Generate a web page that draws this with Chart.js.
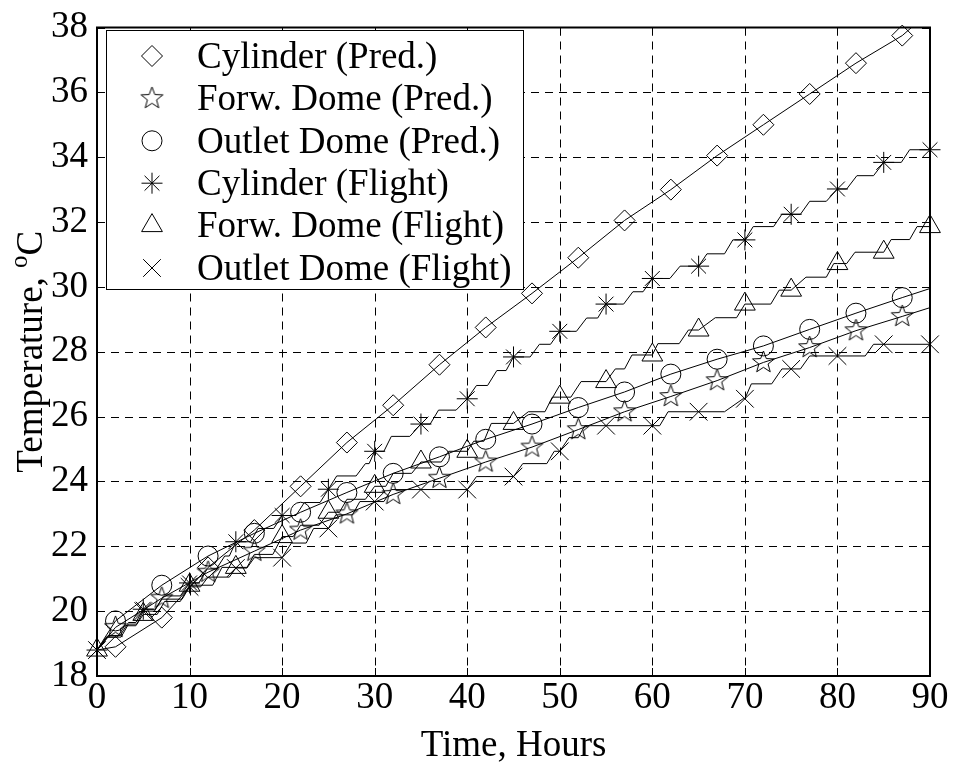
<!DOCTYPE html>
<html>
<head>
<meta charset="utf-8">
<title>Temperature vs Time</title>
<script src="https://cdn.jsdelivr.net/npm/chart.js@4.4.1/dist/chart.umd.min.js"></script>
<style>
  html, body { margin: 0; padding: 0; background: #fff; }
  #wrap { width: 953px; height: 766px; }
</style>
</head>
<body>
<div id="wrap"><canvas id="chart" width="953" height="766"></canvas></div>
<script>
/* ---------- data ---------- */

const xTicks = [0, 10, 20, 30, 40, 50, 60, 70, 80, 90];
const yTicks = [18, 20, 22, 24, 26, 28, 30, 32, 34, 36, 38];

const seriesNames = [
  "Cylinder (Pred.)",
  "Forw. Dome (Pred.)",
  "Outlet Dome (Pred.)",
  "Cylinder (Flight)",
  "Forw. Dome (Flight)",
  "Outlet Dome (Flight)"
];

// hours where a marker is drawn
const predMarkHours = [2, 7, 12, 17, 22, 27, 32, 37, 42, 47, 52, 57, 62, 67, 72, 77, 82, 87];
const flightMarkHours = [0, 5, 10, 15, 20, 25, 30, 35, 40, 45, 50, 55, 60, 65, 70, 75, 80, 85, 90];

// predicted curves
const cylPredHours = [0, 2, 7, 12, 17, 22, 27, 32, 37, 42, 47, 52, 57, 62, 67, 72, 77, 82, 87, 88];
const cylPredTemps = [18.8, 18.9, 19.8, 21.35, 22.5, 23.85, 25.2, 26.35, 27.6, 28.75, 29.8, 30.9, 32.05, 33.0, 34.05, 35.0, 35.95, 36.9, 37.75, 38.0];

const domePredHours = [0, 2, 7, 12, 17, 22, 27, 32, 37, 42, 47, 52, 57, 62, 67, 72, 77, 82, 87, 90];
const fwdPredTemps = [18.8, 19.5, 20.4, 21.2, 21.85, 22.5, 23.0, 23.6, 24.1, 24.6, 25.06, 25.6, 26.15, 26.62, 27.11, 27.67, 28.13, 28.65, 29.09, 29.36];
const outPredTemps = [18.8, 19.7, 20.8, 21.7, 22.4, 23.05, 23.66, 24.25, 24.76, 25.3, 25.77, 26.28, 26.76, 27.31, 27.77, 28.18, 28.69, 29.19, 29.67, 29.95];

// flight records (stair-like polylines)
const cylFlightHours = [0, 1.2, 2.5, 3.4, 4.2, 5, 6.3, 7.2, 9.0, 10, 11.0, 11.9, 12.9, 13.8, 14.3, 15, 16.6, 17.4, 19.1, 20,
  21.5, 22.4, 24.1, 25, 25.9, 28.0, 29.0, 29.4, 30, 31.0, 31.8, 33.8, 35, 36.0, 36.9, 38.8, 40, 41.0, 42.2, 43.2, 44.2, 45,
  46.8, 47.8, 49.0, 50, 51.8, 52.9, 54.1, 55, 56.9, 57.9, 59.0, 60, 61.9, 63.0, 65, 65.9, 67.8, 68.7, 70, 70.9, 73.1, 74.0, 75,
  76.0, 77.0, 78.8, 80, 81.0, 82.1, 83.9, 85, 86.9, 87.8, 90];
const cylFlightTemps = [18.8, 19.25, 19.25, 19.65, 19.65, 20.06, 20.06, 20.47, 20.47, 20.87, 20.87, 21.3, 21.3, 21.7, 21.7, 22.14, 22.14, 22.55, 22.55, 22.95,
  22.95, 23.35, 23.35, 23.76, 24.17, 24.17, 24.55, 24.55, 24.93, 24.93, 25.39, 25.39, 25.77, 25.77, 26.2, 26.2, 26.55, 26.96, 26.96, 27.42, 27.42, 27.84,
  27.84, 28.23, 28.23, 28.63, 28.63, 29.04, 29.04, 29.47, 29.47, 29.85, 29.85, 30.26, 30.26, 30.64, 30.64, 31.02, 31.02, 31.45, 31.45, 31.86, 31.86, 32.24, 32.24,
  32.24, 32.64, 32.64, 33.02, 33.02, 33.43, 33.43, 33.84, 33.84, 34.23, 34.23];

const fwdFlightHours = [0, 1.0, 2.2, 3.0, 4.2, 5, 6.5, 7.3, 9.0, 10, 12.5, 13.5, 15, 16.2, 17.0, 19.0, 20, 21.2, 22.0, 24.0, 25,
  26.2, 27.0, 29.0, 30, 31.2, 32.0, 34.0, 35, 37.2, 38.0, 40, 40.7, 41.8, 42.6, 45, 46.6, 48.4, 49.2, 50, 51.2, 52.3, 55,
  56.0, 57.0, 57.8, 60, 60.6, 62.9, 63.9, 65, 66.8, 69.1, 70, 72.8, 73.7, 75, 76.6, 78.8, 79.6, 80, 81.0, 81.9, 85,
  85.8, 87.8, 88.6, 90];
const fwdFlightTemps = [18.8, 19.2, 19.2, 19.55, 19.55, 19.9, 19.9, 20.3, 20.3, 20.8, 20.8, 21.35, 21.35, 21.35, 21.75, 21.75, 22.3, 22.3, 22.65, 22.65, 23.05,
  23.05, 23.45, 23.45, 23.85, 23.85, 24.25, 24.25, 24.6, 24.6, 24.93, 24.93, 25.24, 25.24, 25.79, 25.79, 26.15, 26.15, 26.6, 26.6, 26.6, 27.08, 27.08,
  27.47, 27.47, 27.9, 27.9, 28.25, 28.25, 28.67, 28.67, 29.05, 29.05, 29.47, 29.47, 29.9, 29.9, 30.3, 30.3, 30.72, 30.72, 30.72, 31.07, 31.07,
  31.46, 31.46, 31.86, 31.86];

const outFlightHours = [0, 1.2, 2.6, 3.4, 4.3, 5, 6.2, 7.0, 9.2, 10, 11.2, 12.0, 14.3, 15, 16.2, 17.0, 20, 21.0, 22.6, 23.4, 25,
  25.8, 27.6, 28.4, 30, 31.0, 31.8, 35, 40, 41.0, 45, 46.0, 48.6, 49.4, 50, 51.0, 52.0, 52.7, 55, 60, 60.8, 61.7, 65, 67.8,
  69.8, 70, 70.7, 72.9, 74.0, 75, 76.0, 77.0, 80, 83.0, 83.9, 85, 90];
const outFlightTemps = [18.8, 19.2, 19.2, 19.6, 19.6, 20.0, 20.0, 20.37, 20.37, 20.75, 20.75, 21.05, 21.05, 21.33, 21.33, 21.65, 21.65, 22.1, 22.1, 22.55, 22.55,
  22.97, 22.97, 23.38, 23.38, 23.38, 23.75, 23.75, 23.75, 24.15, 24.15, 24.55, 24.55, 24.93, 24.93, 25.35, 25.35, 25.72, 25.72, 25.72, 25.72, 26.15, 26.15, 26.15,
  26.55, 26.55, 27.01, 27.01, 27.47, 27.47, 27.47, 27.87, 27.87, 27.87, 28.23, 28.23, 28.23];

/* ---------- look ---------- */

const FONT = '"Liberation Serif", "Times New Roman", serif';
const FS = 37;

// five-pointed star marker (Chart.js has none)
function makePentagram(r) {
  const s = Math.ceil(r * 2 + 4);
  const c = document.createElement("canvas");
  c.width = s; c.height = s;
  const g = c.getContext("2d");
  g.translate(s / 2, s / 2);
  g.beginPath();
  for (let i = 0; i < 10; i++) {
    const rr = i % 2 === 0 ? r : r * 0.42;
    const a = -Math.PI / 2 + i * Math.PI / 5;
    g.lineTo(rr * Math.cos(a), rr * Math.sin(a));
  }
  g.closePath();
  g.lineWidth = 1;
  g.strokeStyle = "#000";
  g.stroke();
  return c;
}
const pentagram = makePentagram(11.5);

const series = [
  { hours: cylPredHours, temps: cylPredTemps, marks: predMarkHours, style: "rectRot", r: 10.5 },
  { hours: domePredHours, temps: fwdPredTemps, marks: predMarkHours, style: pentagram, r: 11.5 },
  { hours: domePredHours, temps: outPredTemps, marks: predMarkHours, style: "circle", r: 10 },
  { hours: cylFlightHours, temps: cylFlightTemps, marks: flightMarkHours, style: "star", r: 10.5 },
  { hours: fwdFlightHours, temps: fwdFlightTemps, marks: flightMarkHours, style: "triangle", r: 12 },
  { hours: outFlightHours, temps: outFlightTemps, marks: flightMarkHours, style: "crossRot", r: 12.5 }
];

const datasets = series.map((s, i) => ({
  label: seriesNames[i],
  data: s.hours.map((h, k) => ({ x: h, y: s.temps[k] })),
  borderColor: "#000",
  borderWidth: 1,
  tension: 0,
  fill: false,
  clip: false,
  pointStyle: s.style,
  pointRadius: ctx => (ctx.raw && s.marks.includes(ctx.raw.x)) ? s.r : 0,
  pointBorderColor: "#000",
  pointBorderWidth: 1,
  pointBackgroundColor: "rgba(0,0,0,0)"
}));

/* ---------- plugins: grid, frame, legend, titles ---------- */

const matlabAxes = {
  id: "matlabAxes",
  beforeDatasetsDraw(chart) {
    const { ctx, chartArea: a, scales: { x, y } } = chart;
    ctx.save();
    ctx.strokeStyle = "#000";
    ctx.lineWidth = 1;
    ctx.setLineDash([8, 6]);
    xTicks.slice(1, -1).forEach(v => {
      const px = Math.round(x.getPixelForValue(v)) + 0.5;
      ctx.beginPath(); ctx.moveTo(px, a.top); ctx.lineTo(px, a.bottom); ctx.stroke();
    });
    yTicks.slice(1, -1).forEach(v => {
      const py = Math.round(y.getPixelForValue(v)) + 0.5;
      ctx.beginPath(); ctx.moveTo(a.left, py); ctx.lineTo(a.right, py); ctx.stroke();
    });
    ctx.restore();
  },
  afterDatasetsDraw(chart) {
    const { ctx, chartArea: a, scales: { x, y } } = chart;
    ctx.save();
    ctx.strokeStyle = "#000";
    ctx.lineWidth = 2;
    ctx.setLineDash([]);
    ctx.strokeRect(a.left, a.top, a.right - a.left, a.bottom - a.top);
    ctx.lineWidth = 1;
    const tl = 8;
    xTicks.forEach(v => {
      const px = Math.round(x.getPixelForValue(v)) + 0.5;
      ctx.beginPath();
      ctx.moveTo(px, a.bottom); ctx.lineTo(px, a.bottom - tl);
      ctx.moveTo(px, a.top); ctx.lineTo(px, a.top + tl);
      ctx.stroke();
    });
    yTicks.forEach(v => {
      const py = Math.round(y.getPixelForValue(v)) + 0.5;
      ctx.beginPath();
      ctx.moveTo(a.left, py); ctx.lineTo(a.left + tl, py);
      ctx.moveTo(a.right, py); ctx.lineTo(a.right - tl, py);
      ctx.stroke();
    });

    // legend box
    const box = { l: 106, t: 30, r: 523, b: 289 };
    ctx.fillStyle = "#fff";
    ctx.fillRect(box.l, box.t, box.r - box.l, box.b - box.t);
    ctx.strokeRect(box.l + 0.5, box.t + 0.5, box.r - box.l, box.b - box.t);
    const rowH = 42.4;
    ctx.font = FS + "px " + FONT;
    ctx.fillStyle = "#000";
    ctx.textBaseline = "middle";
    ctx.textAlign = "left";
    series.forEach((s, i) => {
      const cy = box.t + 26 + i * rowH;
      const opts = {
        pointStyle: s.style, radius: s.r, rotation: 0,
        borderWidth: 1, borderColor: "#000", backgroundColor: "rgba(0,0,0,0)"
      };
      ctx.strokeStyle = "#000";
      ctx.lineWidth = 1;
      ctx.fillStyle = "rgba(0,0,0,0)";
      Chart.helpers.drawPoint(ctx, opts, 152, cy);
      ctx.fillStyle = "#000";
      ctx.fillText(seriesNames[i], 197, cy + 2);
    });
    ctx.restore();
  },
  afterDraw(chart) {
    const { ctx, chartArea: a } = chart;
    ctx.save();
    ctx.fillStyle = "#000";
    ctx.font = FS + "px " + FONT;
    ctx.textAlign = "center";
    ctx.textBaseline = "alphabetic";
    ctx.fillText("Time, Hours", (a.left + a.right) / 2, 756);

    // y title with superscript degree "o"
    ctx.translate(42, (a.top + a.bottom) / 2);
    ctx.rotate(-Math.PI / 2);
    ctx.textAlign = "left";
    const t1 = "Temperature, ";
    const w1 = ctx.measureText(t1).width;
    ctx.font = "25px " + FONT;
    const w2 = ctx.measureText("o").width;
    ctx.font = FS + "px " + FONT;
    const w3 = ctx.measureText("C").width;
    let sx = -(w1 + w2 + w3) / 2;
    ctx.fillText(t1, sx, 0);
    ctx.font = "25px " + FONT;
    ctx.fillText("o", sx + w1, -15);
    ctx.font = FS + "px " + FONT;
    ctx.fillText("C", sx + w1 + w2, 0);
    ctx.restore();
  }
};

/* ---------- chart ---------- */

new Chart(document.getElementById("chart"), {
  type: "line",
  data: { datasets },
  options: {
    responsive: false,
    animation: false,
    events: [],
    layout: { padding: { left: 0, right: 23, top: 19, bottom: 0 } },
    plugins: { legend: { display: false }, tooltip: { enabled: false } },
    scales: {
      x: {
        type: "linear",
        min: 0, max: 90,
        afterBuildTicks: s => { s.ticks = xTicks.map(v => ({ value: v })); },
        afterFit: s => { s.height = 90; },
        grid: { display: false, drawTicks: false },
        border: { display: false },
        ticks: { color: "#000", padding: 4, maxRotation: 0, font: { family: FONT, size: FS, lineHeight: 1 } }
      },
      y: {
        type: "linear",
        min: 18, max: 38,
        afterBuildTicks: s => { s.ticks = yTicks.map(v => ({ value: v })); },
        afterFit: s => { s.width = 97; },
        grid: { display: false, drawTicks: false },
        border: { display: false },
        ticks: { color: "#000", padding: 9, font: { family: FONT, size: FS, lineHeight: 1 } }
      }
    }
  },
  plugins: [matlabAxes]
});
</script>
</body>
</html>
